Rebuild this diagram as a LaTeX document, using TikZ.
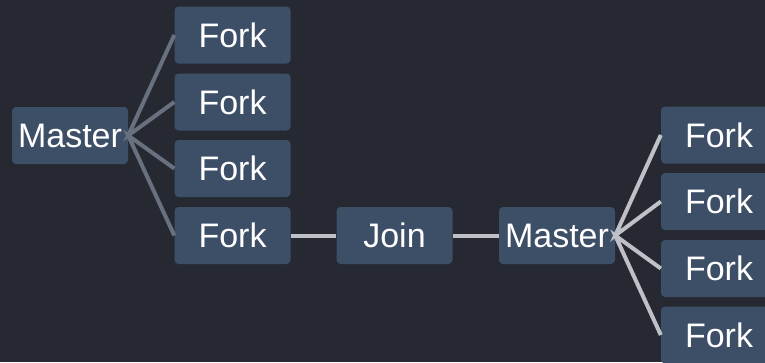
\documentclass[tikz,border=0pt]{standalone}
\usepackage{fontspec}
\setmainfont{Liberation Sans}
\usepackage{tikz}

\definecolor{bgcol}{RGB}{38,41,50}
\definecolor{boxcol}{RGB}{61,78,103}
\definecolor{darkline}{RGB}{105,113,128}
\definecolor{lightline}{RGB}{190,193,199}

\tikzset{
  box/.style={fill=boxcol, rounded corners=4pt, minimum width=116pt, minimum height=57pt,
    inner sep=0pt, text=white, font=\fontsize{34}{40}\selectfont},
  link/.style={line width=4pt},
}

\begin{document}
\begin{tikzpicture}[x=1pt,y=1pt,yscale=-1,xscale=1]
\fill [bgcol] (0,0) rectangle (765,362);
\clip (0,0) rectangle (765,362);
% first group
\node [box] (m1) at (70,135.5) {Master};
\node [box] (f1) at (232.5,35) {Fork};
\node [box] (f2) at (232.5,102) {Fork};
\node [box] (f3) at (232.5,168.5) {Fork};
\node [box] (f4) at (232.5,235.5) {Fork};
\draw [link, darkline] (f1.west) -- (m1.east) -- (f2.west);
\draw [link, darkline] (f3.west) -- (m1.east) -- (f4.west);
% join and second master
\node [box] (j) at (394.5,235.5) {Join};
\node [box] (m2) at (557,235.5) {Master};
\draw [link, lightline] (f4) -- (j);
\draw [link, lightline] (j) -- (m2);
% second group
\node [box] (g1) at (719,135) {Fork};
\node [box] (g2) at (719,201.5) {Fork};
\node [box] (g3) at (719,268.5) {Fork};
\node [box] (g4) at (719,335) {Fork};
\draw [link, lightline] (g1.west) -- (m2.east) -- (g2.west);
\draw [link, lightline] (g3.west) -- (m2.east) -- (g4.west);
\end{tikzpicture}
\end{document}
